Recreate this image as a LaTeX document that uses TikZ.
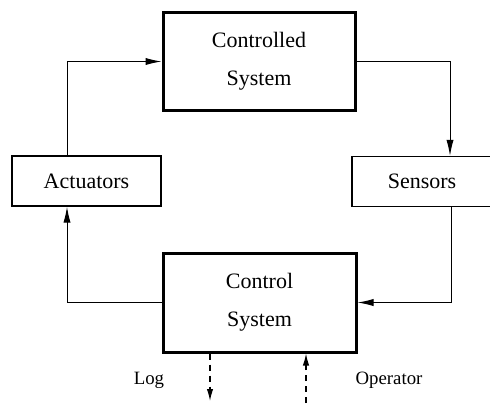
\documentclass[tikz,border=0pt]{standalone}
\usepackage{fontspec}
\setmainfont{Liberation Serif}
\usetikzlibrary{arrows.meta}
\begin{document}
\begin{tikzpicture}[x=0.5pt,y=-0.5pt,
  bigbox/.style={draw,line width=1.5pt,minimum width=96pt,minimum height=49pt,align=center,font=\fontsize{11}{19}\selectfont,inner sep=0pt},
  smallbox/.style={draw,line width=0.7pt,minimum height=25pt,font=\fontsize{11}{13}\selectfont,inner sep=0pt},
  flow/.style={line width=0.5pt,-{Latex[length=8pt,width=3.6pt]}},
  dflow/.style={line width=0.6pt,dash pattern=on 3pt off 2.5pt,-{Latex[length=6pt,width=3.2pt]}},
  lbl/.style={font=\fontsize{9.4}{11}\selectfont,inner sep=0pt}]
\useasboundingbox (0,0) rectangle (490,403);
\node[bigbox] (cs) at (259,61.5) {Controlled\\System};
\node[bigbox,minimum width=96.5pt,minimum height=49.5pt] (ctl) at (259.5,302.5) {Control\\System};
\node[smallbox,minimum width=74.5pt] (act) at (86.5,181) {Actuators};
\node[smallbox,minimum width=70pt] (sen) at (422,181.5) {Sensors};
\coordinate (logend) at (210,401);
\coordinate (opstart) at (306,403);
\node[lbl] (log) at (149,380) {Log};
\node[lbl] (op) at (389,380) {Operator};
\draw[flow] (act.north -| 67,0) |- (cs.west);
\draw[flow] (cs.east) -| (sen.north -| 450,0);
\draw[flow] (sen.south -| 451,0) |- (ctl.east);
\draw[flow] (ctl.west) -| (act.south -| 67,0);
\draw[dflow] (ctl.south -| logend) -- (logend);
\draw[dflow] (opstart) -- (ctl.south -| opstart);
\end{tikzpicture}
\end{document}
